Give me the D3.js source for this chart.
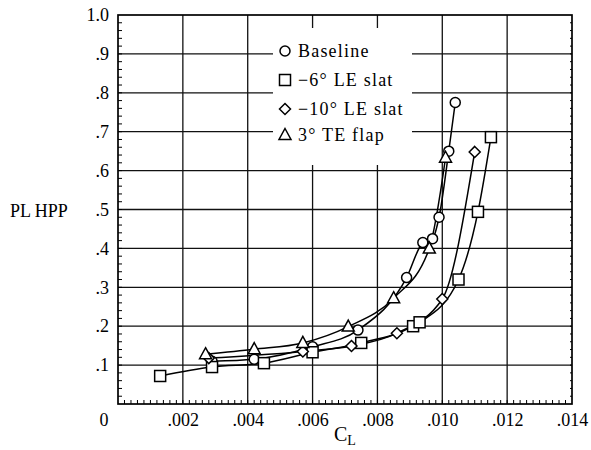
<!DOCTYPE html>
<html><head><meta charset="utf-8">
<script src="https://cdn.jsdelivr.net/npm/d3@7"></script>
<style>body{margin:0;background:#fff}svg{display:block}text{font-family:"Liberation Serif","Times New Roman",serif;fill:#000}</style>
</head><body><svg id="c" width="591" height="450"></svg>
<script>
const xTickVals = [0.002,0.004,0.006,0.008,0.010,0.012,0.014];
const xTickLabels = [".002",".004",".006",".008",".010",".012",".014"];
const yTickVals = [0.1,0.2,0.3,0.4,0.5,0.6,0.7,0.8,0.9,1.0];
const yTickLabels = [".1",".2",".3",".4",".5",".6",".7",".8",".9","1.0"];
const seriesNames = ["Baseline","\u22126\u00b0 LE slat","\u221210\u00b0 LE slat","3\u00b0 TE flap"];
const seriesSymbols = ["circle","square","diamond","triangle"];
const baselineX = [0.0029,0.0042,0.0060,0.0074,0.0089,0.0094,0.0097,0.0099,0.0102,0.0104];
const baselineY = [0.110,0.115,0.147,0.190,0.325,0.415,0.425,0.480,0.650,0.775];
const slat6X = [0.0013,0.0029,0.0045,0.0060,0.0075,0.0091,0.0093,0.0105,0.0111,0.0115];
const slat6Y = [0.072,0.095,0.105,0.133,0.157,0.200,0.210,0.320,0.494,0.686];
const slat10X = [0.0028,0.0057,0.0072,0.0086,0.0100,0.0110];
const slat10Y = [0.118,0.135,0.149,0.182,0.270,0.648];
const flapX = [0.0027,0.0042,0.0057,0.0071,0.0085,0.0096,0.0101];
const flapY = [0.128,0.141,0.157,0.199,0.272,0.400,0.633];

const seriesX = [baselineX, slat6X, slat10X, flapX];
const seriesY = [baselineY, slat6Y, slat10Y, flapY];

const svg = d3.select("#c");
const x = d3.scaleLinear().domain([0,0.014]).range([118,572]);
const y = d3.scaleLinear().domain([0,1]).range([404,15]);

// grid
const g = svg.append("g");
g.selectAll(".vg").data(xTickVals.slice(0,-1)).join("line")
  .attr("x1",d=>x(d)).attr("x2",d=>x(d)).attr("y1",y(0)).attr("y2",y(1))
  .attr("stroke","#111").attr("stroke-width",1.3);
g.selectAll(".hg").data(yTickVals.slice(0,-1)).join("line")
  .attr("x1",x(0)).attr("x2",x(0.014)).attr("y1",d=>y(d)).attr("y2",d=>y(d))
  .attr("stroke","#111").attr("stroke-width",1.3);

// minor ticks
const minorX = d3.range(1,70).map(i=>i*0.0002);
g.selectAll(".mx").data(minorX).join("line")
  .attr("x1",d=>x(d)).attr("x2",d=>x(d)).attr("y1",y(0)).attr("y2",y(0)-4)
  .attr("stroke","#000").attr("stroke-width",1);
const minorY = d3.range(1,50).map(i=>i*0.02);
g.selectAll(".my").data(minorY).join("line")
  .attr("x1",x(0)).attr("x2",x(0)+4).attr("y1",d=>y(d)).attr("y2",d=>y(d))
  .attr("stroke","#000").attr("stroke-width",1);
g.selectAll(".my2").data(minorY).join("line")
  .attr("x1",x(0.014)).attr("x2",x(0.014)-2).attr("y1",d=>y(d)).attr("y2",d=>y(d))
  .attr("stroke","#000").attr("stroke-width",1);

// frame
svg.append("rect").attr("x",x(0)).attr("y",y(1)).attr("width",x(0.014)-x(0)).attr("height",y(0)-y(1))
  .attr("fill","none").attr("stroke","#000").attr("stroke-width",1.7);

// legend background
svg.append("rect").attr("x",273).attr("y",28).attr("width",139).attr("height",137).attr("fill","#fff");

// axis labels via d3 axes
const xAxis = d3.axisBottom(x).tickValues(xTickVals).tickFormat((d,i)=>xTickLabels[i]).tickSize(0).tickPadding(9);
const xa = svg.append("g").attr("transform",`translate(0,${y(0)})`).call(xAxis);
xa.select(".domain").remove();
xa.selectAll("text").attr("font-size",18).attr("font-family","Liberation Serif").attr("fill","#000");
const yAxis = d3.axisLeft(y).tickValues(yTickVals).tickFormat((d,i)=>yTickLabels[i]).tickSize(0).tickPadding(9);
const ya = svg.append("g").attr("transform",`translate(${x(0)},0)`).call(yAxis);
ya.select(".domain").remove();
ya.selectAll("text").attr("font-size",18).attr("font-family","Liberation Serif").attr("fill","#000");
svg.append("text").attr("x",104).attr("y",426).attr("text-anchor","middle").attr("font-size",18).text("0");

svg.append("text").attr("x",10).attr("y",217).attr("font-size",18).text("PL HPP");
const cl = svg.append("text").attr("x",334).attr("y",441).attr("font-size",20);
cl.append("tspan").text("C");
cl.append("tspan").attr("font-size",14).attr("dy",4).text("L");

// symbols
function sym(sel, type, cx, cy){
  if(type==="circle") sel.append("circle").attr("cx",cx).attr("cy",cy).attr("r",5);
  else if(type==="square") sel.append("rect").attr("x",cx-5.5).attr("y",cy-5.5).attr("width",11).attr("height",11);
  else if(type==="diamond") sel.append("path").attr("d",`M${cx},${cy-5.5}L${cx+5.5},${cy}L${cx},${cy+5.5}L${cx-5.5},${cy}Z`);
  else sel.append("path").attr("d",`M${cx},${cy-6.5}L${cx+6},${cy+4.5}L${cx-6},${cy+4.5}Z`);
}

const line = d3.line().x(d=>x(d[0])).y(d=>y(d[1])).curve(d3.curveMonotoneX);
seriesX.forEach((xs,i)=>{
  const pts = xs.map((v,j)=>[v,seriesY[i][j]]);
  svg.append("path").attr("d",line(pts)).attr("fill","none").attr("stroke","#000").attr("stroke-width",1.5);
});
seriesX.forEach((xs,i)=>{
  const sg = svg.append("g").attr("fill","#fff").attr("stroke","#000").attr("stroke-width",1.5);
  xs.forEach((v,j)=>sym(sg, seriesSymbols[i], x(v), y(seriesY[i][j])));
});

// legend
const lg = svg.append("g");
const legY = [51,80,109,135];
seriesNames.forEach((n,i)=>{
  const sg = lg.append("g").attr("fill","#fff").attr("stroke","#000").attr("stroke-width",1.5);
  sym(sg, seriesSymbols[i], 285, legY[i]);
  lg.append("text").attr("x",298).attr("y",legY[i]+6).attr("font-size",18).attr("letter-spacing",1.2).text(n);
});
</script></body></html>
